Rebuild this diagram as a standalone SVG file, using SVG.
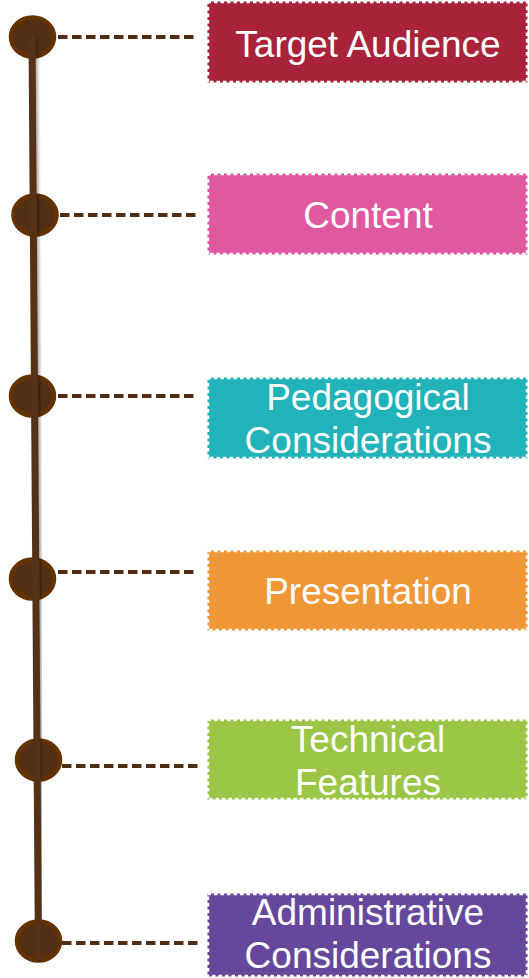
<svg xmlns="http://www.w3.org/2000/svg" width="529" height="978" viewBox="0 0 529 978">
<style>
.box{stroke:#fff;stroke-width:3.5;stroke-dasharray:3.5 3}
.lbl{font-family:"Liberation Sans",Arial,sans-serif;font-size:37px;fill:#fff;text-anchor:middle}
.dot{fill:#512e14;stroke:#633200;stroke-width:4.5}
.conn{stroke:#4f2d14;stroke-width:4;stroke-dasharray:9.5 4.5;fill:none}
</style>
<defs>
<filter id="sh" x="-50%" y="-5%" width="200%" height="110%">
<feGaussianBlur in="SourceAlpha" stdDeviation="1.5"/>
<feOffset dx="2" dy="1" result="b"/>
<feComponentTransfer><feFuncA type="linear" slope="0.35"/></feComponentTransfer>
<feMerge><feMergeNode/><feMergeNode in="SourceGraphic"/></feMerge>
</filter>
</defs>
<g id="connectors">
<line class="conn" x1="58" y1="37" x2="198" y2="37"/>
<line class="conn" x1="60" y1="215" x2="198" y2="215"/>
<line class="conn" x1="58" y1="396" x2="198" y2="396"/>
<line class="conn" x1="58" y1="572" x2="198" y2="572"/>
<line class="conn" x1="62" y1="766" x2="198" y2="766"/>
<line class="conn" x1="62" y1="943" x2="198" y2="943"/>
</g>
<g id="timeline">
<ellipse class="dot" cx="32.5" cy="37" rx="21.5" ry="19.5"/>
<ellipse class="dot" cx="35" cy="215" rx="21.5" ry="19.5"/>
<ellipse class="dot" cx="32.5" cy="396" rx="21.5" ry="19.5"/>
<ellipse class="dot" cx="32.5" cy="579" rx="21.5" ry="19.5"/>
<ellipse class="dot" cx="38.5" cy="760" rx="21.5" ry="19.5"/>
<ellipse class="dot" cx="38.5" cy="941" rx="21.5" ry="19.5"/>
<line x1="32" y1="37" x2="38.5" y2="960" stroke="#553118" stroke-width="7" filter="url(#sh)"/>
</g>
<g id="n1"><rect class="box" x="207.5" y="1.5" width="320" height="81" fill="#a8233a"/><text class="lbl" x="368" y="57">Target Audience</text></g>
<g id="n2"><rect class="box" x="207.5" y="173.5" width="320" height="81" fill="#df58a0"/><text class="lbl" x="368" y="228">Content</text></g>
<g id="n3"><rect class="box" x="207.5" y="377.5" width="320" height="81" fill="#21b2ba"/><text class="lbl" x="368" y="410">Pedagogical</text><text class="lbl" x="368" y="453">Considerations</text></g>
<g id="n4"><rect class="box" x="207.5" y="550.5" width="320" height="80" fill="#ef9636"/><text class="lbl" x="368" y="604">Presentation</text></g>
<g id="n5"><rect class="box" x="207.5" y="719.5" width="320" height="80" fill="#9ac545"/><text class="lbl" x="368" y="752">Technical</text><text class="lbl" x="368" y="795">Features</text></g>
<g id="n6"><rect class="box" x="207.5" y="893.5" width="320" height="83" fill="#65489c"/><text class="lbl" x="368" y="925">Administrative</text><text class="lbl" x="368" y="968">Considerations</text></g>
</svg>
